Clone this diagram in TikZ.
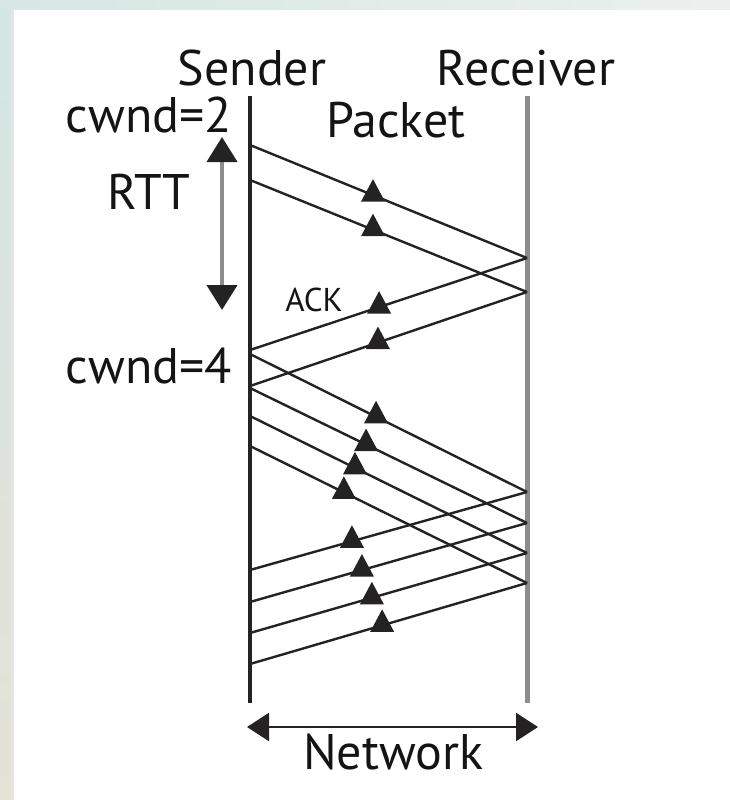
\documentclass[tikz,border=0pt]{standalone}
\usepackage{fontspec}
\setmainfont{PT Sans}
\usetikzlibrary{calc,arrows.meta,decorations.markings}
\definecolor{ink}{HTML}{242223}
\definecolor{rail}{HTML}{8C8C8C}
\definecolor{txt}{HTML}{141414}
\begin{document}
\begin{tikzpicture}[x=1pt,y=-1pt,
  lbl/.style={anchor=base,inner sep=0pt,text=txt,font=\fontsize{50}{60}\selectfont},
  small/.style={anchor=base,inner sep=0pt,text=txt,font=\fontsize{33}{40}\selectfont},
  sendline/.style={ink,line width=3.5pt},
  recvline/.style={rail,line width=5pt},
  msg/.style={ink,line width=2.4pt},
  tri at/.style={postaction={decorate,decoration={markings,
    mark=at position #1 with {\pgftransformresetnontranslations
      \fill[ink] (-12,6.5) -- (12,6.5) -- (0,-16) -- cycle;}}}},
  bigtip/.tip={Triangle[width=30pt,length=25pt,color=ink]},
  nettip/.tip={Triangle[width=28pt,length=22pt,color=ink]}]
\useasboundingbox (0,0) rectangle (730,800);

% page frame
\shade[top color={rgb,255:red,212;green,230;blue,230},
       bottom color={rgb,255:red,229;green,226;blue,214}] (0,0) rectangle (14,800);
\shade[left color={rgb,255:red,214;green,231;blue,229},
       right color={rgb,255:red,236;green,240;blue,236}] (0,0) rectangle (730,10);
\fill[black!10] (11,10) rectangle (14,800);
\fill[white] (14,10) rectangle (730,800);

% lifelines
\coordinate (sTop) at (250,96);
\coordinate (sBot) at (250,703);
\coordinate (rTop) at (527,96);
\coordinate (rBot) at (527,703);
\draw[sendline] (sTop) -- (sBot);
\draw[recvline] (rTop) -- (rBot);

% events on the sender
\coordinate (s1) at (250,145);
\coordinate (s2) at (250,180);
\coordinate (a1) at (250,350);
\coordinate (s3) at (250,354);
\coordinate (a2) at (250,386);
\coordinate (s4) at (250,388);
\coordinate (s5) at (250,416);
\coordinate (s6) at (250,446);
\coordinate (a3) at (250,570);
\coordinate (a4) at (250,602);
\coordinate (a5) at (250,633);
\coordinate (a6) at (250,664);

% events on the receiver
\coordinate (r1) at (527,258);
\coordinate (r2) at (527,292);
\coordinate (r3) at (527,492);
\coordinate (r4) at (527,523);
\coordinate (r5) at (527,553);
\coordinate (r6) at (527,583);

% first window: two packets and their ACKs
\draw[msg,tri at=0.444] (s1) -- (r1);
\draw[msg,tri at=0.444] (s2) -- (r2);
\draw[msg,tri at=0.534] (r1) -- (a1);
\draw[msg,tri at=0.538] (r2) -- (a2);

% second window: four packets and their ACKs
\draw[msg,tri at=0.455] (s3) -- (r3);
\draw[msg,tri at=0.419] (s4) -- (r4);
\draw[msg,tri at=0.379] (s5) -- (r5);
\draw[msg,tri at=0.339] (s6) -- (r6);
\draw[msg,tri at=0.632] (r3) -- (a3);
\draw[msg,tri at=0.596] (r4) -- (a4);
\draw[msg,tri at=0.560] (r5) -- (a5);
\draw[msg,tri at=0.523] (r6) -- (a6);

% round-trip time
\coordinate (rttTop) at (222,137);
\coordinate (rttBot) at (222,310);
\draw[rail,line width=4pt,bigtip-bigtip] (rttTop) -- (rttBot);

% network span
\coordinate (netL) at (247,727);
\coordinate (netR) at (538,727);
\draw[ink,line width=2.5pt,nettip-nettip] (netL) -- (netR);

% labels
\node[lbl] (sender) at (252,85) {Sender};
\node[lbl] (receiver) at (526,85) {Receiver};
\node[lbl] (cw2) at (149,132) {cwnd=2};
\node[lbl] (packet) at (396,137) {Packet};
\node[lbl] (rtt) at (149,209) {RTT};
\node[small] (ack) at (314,311) {ACK};
\node[lbl] (cw4) at (149,383) {cwnd=4};
\node[lbl] (network) at (393,769) {Network};
\end{tikzpicture}
\end{document}
